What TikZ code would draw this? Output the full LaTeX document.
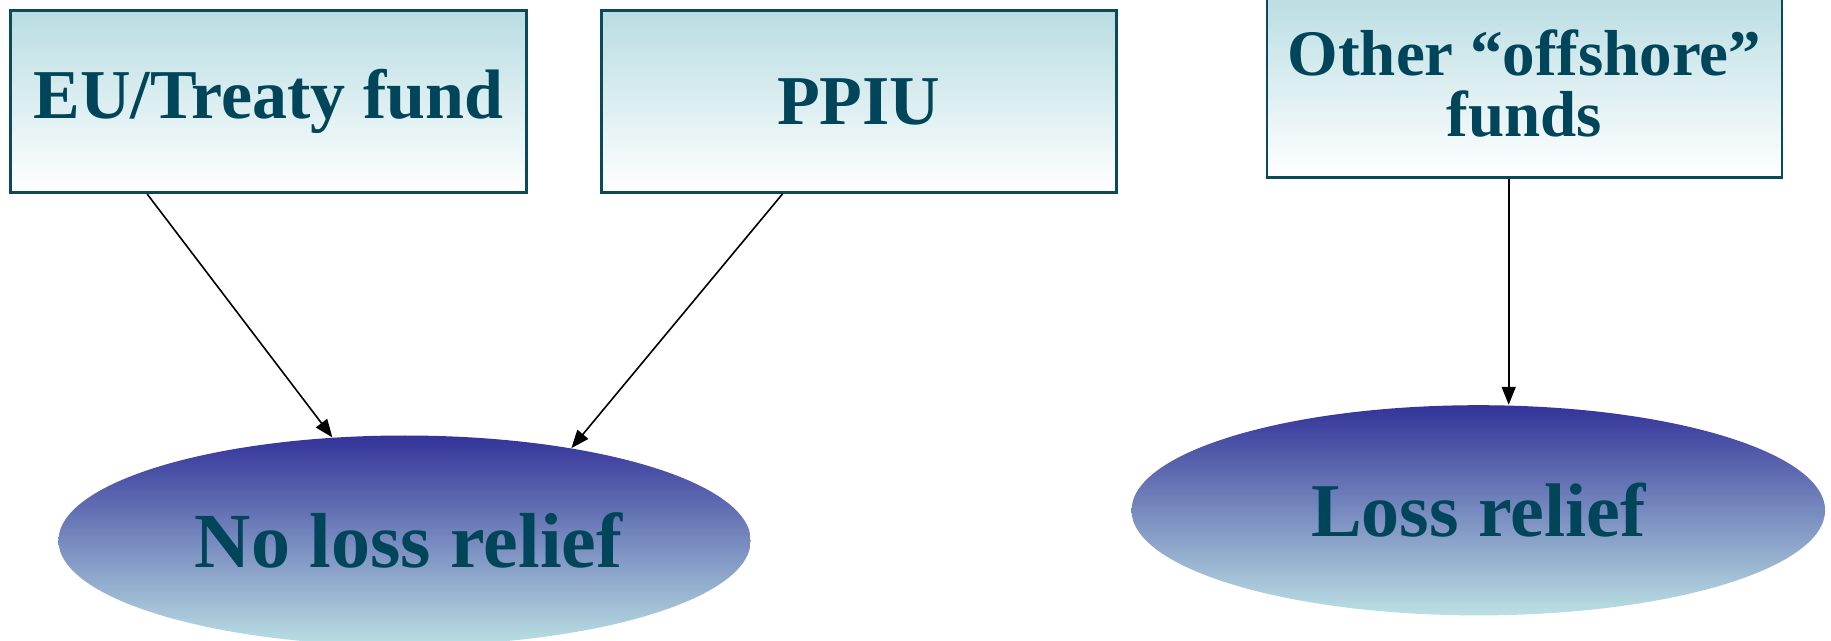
\documentclass[tikz,border=0pt]{standalone}
\usepackage{fontspec}
\setmainfont{Liberation Serif}
\usetikzlibrary{arrows.meta,shapes.geometric}
\definecolor{inkteal}{RGB}{0,69,89}
\definecolor{framebd}{RGB}{12,74,90}
\definecolor{paleteal}{RGB}{184,221,226}
\definecolor{deepblue}{RGB}{51,51,153}
\definecolor{lightcyan}{RGB}{187,224,228}
\tikzset{
  fundbox/.style={draw=framebd, line width=1.3pt, rectangle, inner sep=0pt,
    top color=paleteal, bottom color=white, text=inkteal, align=center,
    font=\fontsize{35}{29}\selectfont\bfseries},
  outcome/.style={ellipse, inner sep=0pt, top color=deepblue, bottom color=lightcyan,
    text=inkteal, font=\fontsize{39}{40}\selectfont\bfseries},
  link/.style={draw=black, line width=0.8pt, -{Triangle[length=9pt,width=7pt]}}
}
\begin{document}
\begin{tikzpicture}[x=0.5pt, y=-0.5pt]
  \useasboundingbox (0,0) rectangle (1831,641);
  % fund categories
  \node[fundbox, minimum width=258pt, minimum height=91.1pt] (b1) at (268.55,101.6) {EU/Treaty fund};
  \node[fundbox, minimum width=257.5pt, minimum height=91.1pt] (b2) at (858.85,101.6) {PPIU};
  \node[fundbox, minimum width=257.5pt, minimum height=93.9pt, font=\fontsize{32.5}{30.5}\selectfont\bfseries] (b3) at (1524.5,83.6) {Other “offshore”\\funds};
  % tax outcomes
  \node[outcome, minimum width=346.2pt, minimum height=105.1pt] (e1) at (404.6,540.6) {\hspace{4pt}No loss relief};
  \node[outcome, minimum width=346.8pt, minimum height=105.1pt, font=\fontsize{38}{40}\selectfont\bfseries] (e2) at (1478.3,510.3) {Loss relief};
  % connectors
  \draw[link] ([xshift=-60.7pt]b1.south) -- (e1.125.3);
  \draw[link] ([xshift=-38.2pt]b2.south) -- (e1.29.3);
  \coordinate (s3) at ([xshift=-7.9pt]b3.south);
  \draw[link] (s3) -- (s3 |- e2.north);
\end{tikzpicture}
\end{document}
